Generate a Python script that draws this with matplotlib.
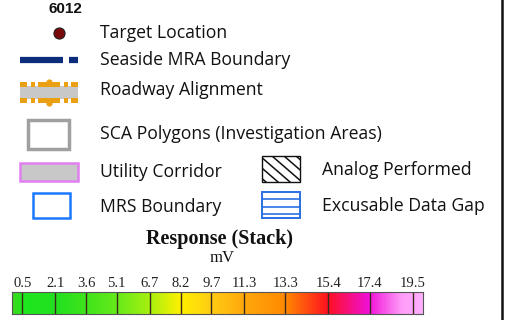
import matplotlib
matplotlib.use("Agg")
import matplotlib.pyplot as plt
import numpy as np
from matplotlib.colors import LinearSegmentedColormap
from matplotlib.patches import Rectangle

# ---- data ----
legend_labels = ["Target Location", "Seaside MRA Boundary", "Roadway Alignment",
                 "SCA Polygons (Investigation Areas)", "Utility Corridor", "MRS Boundary"]
right_labels = ["Analog Performed", "Excusable Data Gap"]
header_label = "6012"
cbar_title = "Response (Stack)"
cbar_unit = "mV"
tick_values = [0.5, 2.1, 3.6, 5.1, 6.7, 8.2, 9.7, 11.3, 13.3, 15.4, 17.4, 19.5]
tick_labels = ["0.5", "2.1", "3.6", "5.1", "6.7", "8.2", "9.7", "11.3", "13.3", "15.4", "17.4", "19.5"]
cbar_range = [0.0, 20.0]
color_stops = [0.0, 0.5, 2.1, 3.6, 5.1, 6.7, 8.2, 9.7, 11.3, 13.3, 15.4, 17.4, 19.0, 20.0]
stop_colors = ["#3fd81f", "#1ee81e", "#22e020", "#40e41c", "#66ea1a", "#a8f010", "#fff000",
               "#ffcc14", "#ffa80c", "#ff8a00", "#ff1020", "#f010d8", "#ff9cf8", "#ffb0ff"]

W, H = 508, 320
fig = plt.figure(figsize=(W / 100, H / 100), dpi=100)
ax = fig.add_axes([0, 0, 1, 1])
ax.set_xlim(0, W)
ax.set_ylim(H, 0)
ax.axis("off")

txt_font = dict(family="Open Sans", fontsize=12.7, color="#111111", va="center", ha="left")

# header
ax.text(65.5, 9, header_label, family="Liberation Sans",
        fontweight="bold", fontsize=11, ha="center", va="center", color="#111111")

# Target location
ax.plot([59], [32.5], marker="o", ms=8, mfc="#7a0a0a", mec="#222222", mew=0.8)
ax.text(100, 33, legend_labels[0], **txt_font)

# Seaside MRA boundary
ax.plot([20, 63], [60, 60], color="#0c2d7c", lw=4.5, solid_capstyle="butt")
ax.plot([69, 78], [60, 60], color="#0c2d7c", lw=4.5, solid_capstyle="butt")
ax.text(100, 60, legend_labels[1], **txt_font)

# Roadway alignment
orange = "#eaa012"
ax.add_patch(Rectangle((20, 86), 58, 13, facecolor="#c8c8c8", edgecolor="none"))
for (xa, xb) in ((20, 27), (31, 35), (38, 60), (64, 68), (71, 78)):
    ax.add_patch(Rectangle((xa, 82), xb - xa, 5, facecolor=orange, edgecolor="none"))
    ax.add_patch(Rectangle((xa, 98), xb - xa, 5, facecolor=orange, edgecolor="none"))
ax.plot([49, 49], [82, 103], ls="none", marker="o", ms=4.5, color=orange, mew=0)
ax.text(100, 90, legend_labels[2], **txt_font)

# SCA polygons
ax.add_patch(Rectangle((28, 120), 41, 29, facecolor="white", edgecolor="#a0a0a0", lw=2.5))
ax.text(100, 134, legend_labels[3], **txt_font)

# Utility corridor
ax.add_patch(Rectangle((20, 163), 58, 18, facecolor="#c8c8c8", edgecolor="#e07ff0", lw=1.8))
ax.text(100, 172, legend_labels[4], **txt_font)

# MRS boundary
ax.add_patch(Rectangle((33, 193), 37, 25, facecolor="white", edgecolor="#1a78ff", lw=1.8))
ax.text(100, 207, legend_labels[5], **txt_font)

# Analog performed (diagonal hatch)
box = Rectangle((262, 156), 38, 26, facecolor="white", edgecolor="#111111", lw=1.0)
ax.add_patch(box)
for x0 in (236, 248, 260, 272, 284, 296):
    ln, = ax.plot([x0, x0 + 30], [156, 182], color="#111111", lw=1.1)
    ln.set_clip_path(box)
ax.text(322, 170, right_labels[0], **txt_font)

# Excusable data gap
ax.add_patch(Rectangle((262, 192), 38, 26, facecolor="white", edgecolor="#2a70e4", lw=1.4))
for yy in (199, 207, 214):
    ax.plot([262, 300], [yy, yy], color="#2a70e4", lw=1.2)
ax.text(322, 206, right_labels[1], **txt_font)

# frame line on right
ax.plot([502, 502], [0, H], color="#111111", lw=1.8)

# colorbar title
ax.text(220, 239, cbar_title, family="Liberation Serif", fontweight="bold", fontsize=14.5,
        ha="center", va="center", color="#111111")
ax.text(222, 258, cbar_unit, family="Liberation Serif", fontsize=12,
        ha="center", va="center", color="#111111")

# colorbar
cax = fig.add_axes([12 / W, 1 - 314 / H, (423 - 12) / W, (314 - 292) / H])
pos = [(v - cbar_range[0]) / (cbar_range[1] - cbar_range[0]) for v in color_stops]
cmap = LinearSegmentedColormap.from_list("resp", list(zip(pos, stop_colors)))
grad = np.linspace(cbar_range[0], cbar_range[1], 800)[None, :]
cax.imshow(grad, aspect="auto", cmap=cmap, extent=[cbar_range[0], cbar_range[1], 0, 1],
           vmin=cbar_range[0], vmax=cbar_range[1])
cax.set_xlim(*cbar_range)
cax.set_ylim(0, 1)
for v in tick_values:
    cax.axvline(v, color="#3a2a1a", lw=1.0)
cax.set_yticks([])
cax.xaxis.tick_top()
cax.set_xticks(tick_values)
cax.set_xticklabels(tick_labels, family="Liberation Serif", fontsize=10.5, color="#222222")
cax.tick_params(axis="x", length=0, pad=1.5)
for s in cax.spines.values():
    s.set_color("#555555")
    s.set_linewidth(0.8)

fig.savefig("out.png", dpi=100)
